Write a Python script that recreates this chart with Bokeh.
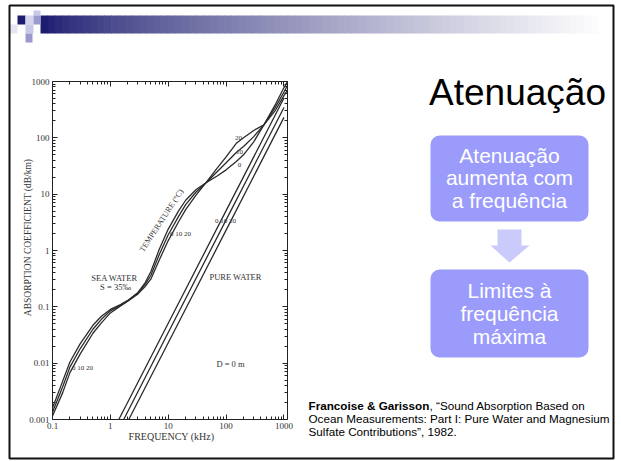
import math
from bokeh.plotting import figure
from bokeh.models import (LogAxis, FixedTicker, Label, BoxAnnotation, Range1d, LogScale)
from bokeh.embed import file_html
from bokeh.resources import INLINE

# ---------------- data ----------------
freq_sea = [0.1, 0.15, 0.2, 0.3, 0.5, 0.7, 1, 1.5, 2, 3, 4, 5, 7, 10, 15, 20, 30,
            45, 70, 100, 150, 200, 300, 450, 700, 1000, 1150]
sea_0C = [0.0016, 0.0048, 0.0105, 0.022, 0.047, 0.068, 0.09, 0.11, 0.13, 0.18, 0.27,
          0.42, 1.05, 2.4, 5.0, 7.8, 12, 16, 21, 27, 38, 50, 85, 170, 380, 780, 1000]
sea_10C = [0.00135, 0.0038, 0.0085, 0.018, 0.04, 0.06, 0.085, 0.107, 0.128, 0.175, 0.25,
           0.36, 0.85, 1.9, 4.0, 6.5, 10.8, 16, 25, 36, 55, 70, 105, 170, 340, 650, 850]
sea_20C = [0.00115, 0.003, 0.0068, 0.0145, 0.034, 0.052, 0.078, 0.104, 0.126, 0.17, 0.23,
           0.31, 0.68, 1.5, 3.2, 5.3, 9.5, 16, 29, 46, 80, 100, 135, 170, 300, 560, 700]

pure_0C_f = [1.4, 10, 100, 1000]
pure_0C = [0.001, 0.051, 5.1, 510]
pure_10C_f = [1.7, 10, 100, 1000]
pure_10C = [0.001, 0.035, 3.5, 346]
pure_20C_f = [2.08, 10, 100, 1000]
pure_20C = [0.001, 0.023, 2.3, 231]

y_ticks = [0.001, 0.01, 0.1, 1, 10, 100, 1000]
y_tick_labels = ["0.001", "0.01", "0.1", "1", "10", "100", "1000"]
x_ticks = [0.1, 1, 10, 100, 1000]
x_tick_labels = ["0.1", "1", "10", "100", "1000"]
XMIN, XMAX = 0.1, 1150
YMIN, YMAX = 0.001, 1000

# ---------------- layout: canvas in page pixels ----------------
W, H = 620, 460
FL, FR, FT, FB = 52, 287, 81, 419  # chart box edges in page pixels

p = figure(width=W, height=H, x_range=Range1d(0, W), y_range=Range1d(H, 0),
           x_axis_location=None, y_axis_location=None, min_border=0,
           output_backend="svg", toolbar_location=None)
p.grid.visible = False
p.outline_line_color = None
p.background_fill_color = "white"
p.border_fill_color = "white"

pxd = (FR - FL) / math.log10(XMAX / XMIN)
pyd = (FB - FT) / math.log10(YMAX / YMIN)
p.extra_x_ranges = {"f": Range1d(XMIN * 10 ** (-FL / pxd), XMAX * 10 ** ((W - FR) / pxd))}
p.extra_x_scales = {"f": LogScale()}
p.extra_y_ranges = {"a": Range1d(YMIN * 10 ** (-(H - FB) / pyd), YMAX * 10 ** (FT / pyd))}
p.extra_y_scales = {"a": LogScale()}

def decade_minors(lo, hi, vmax):
    out = []
    for k in range(lo, hi):
        for m in range(2, 10):
            v = m * 10.0 ** k
            if v <= vmax:
                out.append(v)
    return out

SERIF = "Liberation Serif"
AX = "#222222"

def make_axis(fixed, bounds, ticks, labels, minors, show):
    ax = LogAxis(x_range_name="f", y_range_name="a", fixed_location=fixed, bounds=bounds,
                 ticker=FixedTicker(ticks=ticks, minor_ticks=minors))
    ax.major_tick_in = 5
    ax.major_tick_out = 0
    ax.minor_tick_in = 3
    ax.minor_tick_out = 0
    ax.axis_line_color = AX
    ax.major_tick_line_color = AX
    ax.minor_tick_line_color = AX
    ax.major_label_text_font = SERIF
    ax.major_label_text_font_size = "9px"
    if show:
        ax.major_label_overrides = dict(zip(ticks, labels))
        ax.major_label_text_color = "#333333"
    else:
        ax.major_label_overrides = {t: " " for t in ticks}
        ax.major_label_text_color = "white"
        ax.major_label_text_alpha = 0.0
    ax.major_label_standoff = 3
    return ax

xmin_ticks = decade_minors(-1, 3, XMAX)
ymin_ticks = decade_minors(-3, 3, YMAX)
p.add_layout(make_axis(YMIN, (XMIN, XMAX), x_ticks, x_tick_labels, xmin_ticks, True), "below")
p.add_layout(make_axis(YMAX, (XMIN, XMAX), x_ticks, x_tick_labels, xmin_ticks, False), "above")
p.add_layout(make_axis(XMIN, (YMIN, YMAX), y_ticks, y_tick_labels, ymin_ticks, True), "left")
p.add_layout(make_axis(XMAX, (YMIN, YMAX), y_ticks, y_tick_labels, ymin_ticks, False), "right")

LINE = "#2b2b2b"
for ys in (sea_0C, sea_10C, sea_20C):
    p.line(freq_sea, ys, line_color=LINE, line_width=1.3, x_range_name="f", y_range_name="a")
for fs, ys in ((pure_0C_f, pure_0C), (pure_10C_f, pure_10C), (pure_20C_f, pure_20C)):
    p.line(fs, ys, line_color=LINE, line_width=1.3, x_range_name="f", y_range_name="a")

# ---------------- helpers (page pixel coordinates) ----------------
def lab(X, Y, text, size, font="Liberation Sans", color="black", align="center",
        baseline="middle", style="normal", angle=0):
    p.add_layout(Label(x=X, y=Y, text=text, text_font=font, text_font_size=size,
                       text_color=color, text_align=align, text_baseline=baseline,
                       text_font_style=style, angle=angle))

def box(x1, y1, x2, y2, color, radius=0):
    p.add_layout(BoxAnnotation(left=x1, right=x2, top=y1, bottom=y2,
                               fill_color=color, fill_alpha=1.0, line_color=None,
                               border_radius=radius, level="underlay"))

# ---------------- chart texts ----------------
CT = "#333333"
lab(27, 237, "ABSORPTION COEFFICIENT (dB/km)", "9.5px", font=SERIF, color=CT, angle=math.pi / 2)
lab(171, 436, "FREQUENCY (kHz)", "10px", font=SERIF, color=CT)
lab(114, 277, "SEA WATER", "8.5px", font=SERIF, color=CT)
lab(115, 286, "S = 35‰", "8.5px", font=SERIF, color=CT)
lab(235, 276, "PURE WATER", "8.5px", font=SERIF, color=CT)
lab(230, 363, "D = 0 m", "8.5px", font=SERIF, color=CT)
lab(82, 367, "0 10 20", "7px", font=SERIF, color=CT)
lab(180, 233, "0 10 20", "7px", font=SERIF, color=CT)
lab(225, 220, "0 10 20", "7px", font=SERIF, color=CT)
lab(238, 137, "20", "7px", font=SERIF, color=CT)
lab(239, 151, "10", "7px", font=SERIF, color=CT)
lab(239, 164, "0", "7px", font=SERIF, color=CT)
lab(161, 220, "TEMPERATURE (°C)", "8px", font=SERIF, color=CT, angle=0.99)

# ---------------- slide decoration ----------------
c0 = (28, 28, 112)
c1 = (255, 255, 255)
n = 80
bx0, bx1 = 40, 605
lefts, rights, cols = [], [], []
for i in range(n):
    t = i / (n - 1)
    tt = t ** 0.75
    col = tuple(int(c0[k] + (c1[k] - c0[k]) * tt) for k in range(3))
    lefts.append(bx0 + (bx1 - bx0) * i / n)
    rights.append(bx0 + (bx1 - bx0) * (i + 1) / n + 0.7)
    cols.append("#%02x%02x%02x" % col)
p.quad(left=lefts, right=rights, top=[15] * n, bottom=[33] * n, fill_color=cols,
       line_color=None)

sq_l = [17, 25, 33, 33, 25, 25, 9]
sq_t = [15, 15, 10, 15, 24, 33, 24]
sq_r = [25, 33, 40, 40, 33, 32, 17]
sq_b = [24, 24, 15, 24, 33, 42, 33]
sq_c = ["#1c1c70", "#d4d4ee", "#c8c8e8", "#9a9acc", "#c8c8e8", "#9a9acc", "#e6e6f2"]
p.quad(left=sq_l, right=sq_r, top=sq_t, bottom=sq_b, fill_color=sq_c, line_color=None)

p.quad(left=[9], right=[613], top=[5], bottom=[458], fill_color=None,
       line_color="#111111", line_width=2)

lab(517, 92, "Atenuação", "37px", baseline="alphabetic")

BOXC = "#9b9bfb"
box(430, 135, 588, 221, BOXC, radius=9)
lab(509, 155, "Atenuação", "21px", color="white")
lab(509, 177, "aumenta com", "21px", color="white")
lab(509, 200, "a frequência", "21px", color="white")

arrow_x = [497, 521, 521, 529, 509, 490, 497]
arrow_y = [229, 229, 245, 245, 262, 245, 245]
p.patch(arrow_x, arrow_y, fill_color="#cacafb", line_color=None)

box(430, 269, 588, 357, BOXC, radius=9)
lab(509, 290, "Limites à", "21px", color="white")
lab(509, 313, "frequência", "21px", color="white")
lab(509, 336, "máxima", "21px", color="white")

lab(308, 405, "Francoise & Garisson", "11.7px", align="left", style="bold")
lab(429, 405, ", “Sound Absorption Based on", "11.7px", align="left")
lab(308, 418, "Ocean Measurements: Part I: Pure Water and Magnesium", "11.7px", align="left")
lab(308, 431, "Sulfate Contributions”, 1982.", "11.7px", align="left")

open("out.html", "w").write(file_html(p, INLINE))
